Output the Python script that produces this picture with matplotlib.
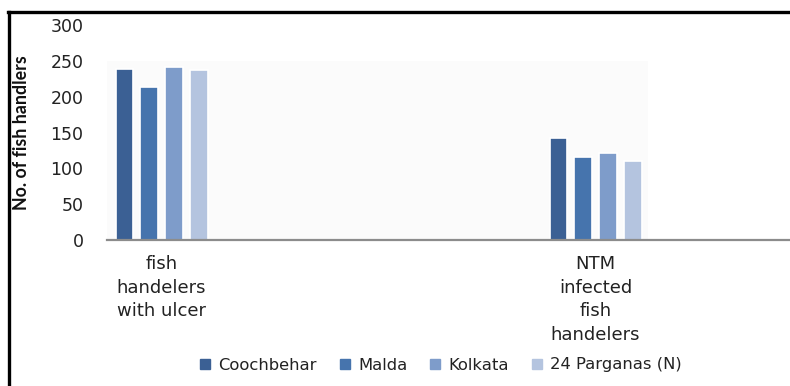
import matplotlib.pyplot as plt
from matplotlib.lines import Line2D
import numpy as np

# data
categories = ["fish\nhandelers\nwith ulcer", "NTM\ninfected\nfish\nhandelers"]
districts = ["Coochbehar", "Malda", "Kolkata", "24 Parganas (N)"]
coochbehar = [239, 142]
malda = [214, 116]
kolkata = [241, 121]
parganas = [237, 110]
colours = ["#3b6094", "#4674ad", "#7e9cca", "#b4c4df"]

values = [coochbehar, malda, kolkata, parganas]

fig = plt.figure(figsize=(7.9, 3.86), dpi=100)
ax = fig.add_axes([107 / 790, 1 - 240 / 386, 1 - 107 / 790, 215 / 386])

x = np.arange(len(categories))
step = 0.057
width = 0.041

# very faint plot-area background as in the original
ax.axvspan(-0.126, 1.12, ymax=250 / 300, color="#fbfbfb", zorder=0, lw=0)

for i, (vals, col) in enumerate(zip(values, colours)):
    ax.bar(x + (i - 1.5) * step, vals, width, color=col,
           edgecolor="white", linewidth=1.2, label=districts[i], zorder=2)

ax.set_ylim(0, 300)
ax.set_xlim(-0.1256, 1.448)
ax.set_yticks(range(0, 301, 50))
ax.set_xticks(x)
ax.set_xticklabels(categories, fontsize=13, linespacing=1.4,
                   color="#222222")
ax.tick_params(axis="x", length=0, pad=11)
ax.tick_params(axis="y", length=0, pad=17, labelsize=12.5, labelcolor="#222222")
for side in ["top", "right", "left"]:
    ax.spines[side].set_visible(False)
ax.spines["bottom"].set_color("#8c8c8c")
ax.spines["bottom"].set_linewidth(1.6)
ax.patch.set_alpha(0)

fig.text(22 / 790, 1 - 133 / 386, "No. of fish handlers", rotation=90,
         family="Lato", fontweight="bold", fontsize=12.8,
         ha="center", va="center", color="#111111")

# legend with small square markers
handles = [Line2D([], [], marker="s", ls="none", markersize=6.5, color=c)
           for c in colours]
fig.legend(handles, districts, loc="center", ncol=4,
           bbox_to_anchor=(441 / 790, 1 - 365 / 386), frameon=False,
           fontsize=11.8, handlelength=0.6, handletextpad=0.5,
           columnspacing=1.4, labelcolor="#222222")

# black frame on the left and top edges
fig.add_artist(Line2D([8.5 / 790, 8.5 / 790], [0, 1 - 12 / 386],
                      color="black", lw=2.4, transform=fig.transFigure))
fig.add_artist(Line2D([7.5 / 790, 1], [1 - 12 / 386, 1 - 12 / 386],
                      color="black", lw=2.4, transform=fig.transFigure))

fig.savefig("out.png", dpi=100)
